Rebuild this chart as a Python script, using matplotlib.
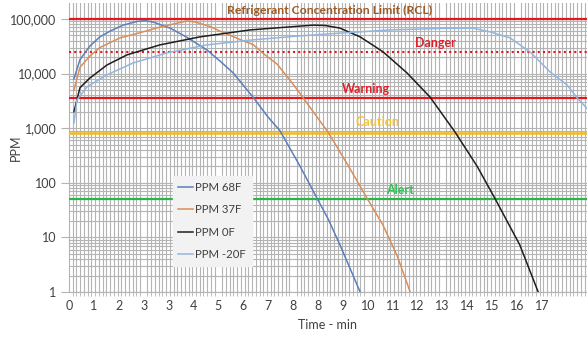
import numpy as np
import matplotlib.pyplot as plt
from matplotlib.ticker import FixedLocator, MultipleLocator, LogLocator, NullFormatter

plt.rcParams['font.family'] = ['Lato', 'DejaVu Sans']

# time axis is a category axis: tick positions 0..19 carry these labels
tick_labels = ['0', '1', '2', '3', '3', '4', '5', '6', '7', '8',
               '8', '9', '10', '11', '12', '13', '14', '15', '16', '17']

t_68 = [0.2, 0.44, 0.84, 1.24, 1.65, 2.17, 2.73, 3.05, 3.37, 4.06, 4.74, 5.54,
        6.06, 6.59, 7.39, 7.99, 8.47, 9.28, 9.96, 10.4, 10.88, 11.69]
ppm_68 = [8000, 18000, 32000, 47000, 60000, 77000, 90000, 93000, 88000, 68000, 46000, 27000,
          17000, 10300, 3700, 1600, 900, 200, 52, 22, 7.3, 1]

t_37 = [0.2, 0.44, 0.84, 1.24, 2.05, 2.85, 3.65, 4.46, 4.74, 5.06, 5.66, 6.06, 6.87,
        7.39, 7.87, 8.35, 8.88, 9.28, 9.84, 10.4, 11.2, 11.97, 12.6, 13.17, 13.7]
ppm_37 = [5000, 13000, 21000, 30000, 45000, 56000, 71000, 86000, 92000, 88000, 73000, 60000, 42000,
          34000, 22000, 15000, 7500, 4300, 1900, 850, 210, 52, 17, 4.7, 1]

t_0 = [0.2, 0.44, 0.84, 1.53, 2.33, 3.65, 5.26, 7.27, 9.28, 9.8, 10.28, 10.88, 11.69,
       12.61, 13.57, 14.5, 15.5, 16.39, 17.1, 18.1, 18.84]
ppm_0 = [2000, 5500, 8300, 14400, 22000, 33500, 47000, 63000, 74000, 77000, 76000, 68000, 47000,
         25000, 10300, 3700, 850, 200, 52, 7.3, 1]

t_m20 = [0.2, 0.32, 0.72, 1.53, 2.57, 3.94, 5.54, 7.27, 9.28, 10.88, 12.89, 14.9, 16.22,
         16.91, 17.71, 18.51, 19.32, 20.0, 20.4, 20.8]
ppm_m20 = [1250, 3300, 5700, 9500, 15600, 24000, 33500, 41000, 49000, 55000, 63000, 67000, 68000,
           58000, 45000, 25000, 10700, 6200, 3600, 2300]

limit_rcl = 100000
limit_danger = 25000
limit_warning = 3600
limit_caution = 820
limit_alert = 50

fig = plt.figure(figsize=(5.87, 3.37), dpi=100)
ax = fig.add_axes([69 / 587, 1 - 292 / 337, 518 / 587, 289 / 337])

ax.set_yscale('log')
ax.set_xlim(0, 20.8)

grid_c = '#b4b4b4'
ax.xaxis.set_major_locator(FixedLocator(range(len(tick_labels))))
ax.set_xticklabels(tick_labels)
ax.xaxis.set_minor_locator(MultipleLocator(0.15))
ax.yaxis.set_minor_locator(LogLocator(base=10, subs=np.arange(2, 10), numticks=10))
ax.yaxis.set_minor_formatter(NullFormatter())
ax.set_yticks([1, 10, 100, 1000, 10000, 100000])
ax.set_yticklabels(['1', '10', '100', '1,000', '10,000', '100,000'])
ax.set_ylim(1, 196000)

ax.grid(which='minor', axis='x', color=grid_c, lw=0.8)
ax.grid(which='both', axis='y', color=grid_c, lw=0.8)
ax.set_axisbelow(True)

ax.tick_params(axis='x', which='major', length=0, labelsize=9, colors='#404040', pad=6)
ax.tick_params(axis='x', which='minor', length=3, color=grid_c)
ax.tick_params(axis='y', which='major', length=6, color=grid_c, labelsize=9, labelcolor='#404040', pad=3)
ax.tick_params(axis='y', which='minor', length=0)
for s in ['top', 'right']:
    ax.spines[s].set_visible(False)
for s in ['left', 'bottom']:
    ax.spines[s].set_color(grid_c)

ax.axhline(limit_rcl, color='#e3161e', lw=1.6, zorder=3)
ax.axhline(limit_danger, color='#e3161e', lw=1.5, ls=(0, (1, 1.5)), zorder=3)
ax.axhline(limit_warning, color='#e3161e', lw=1.6, zorder=3)
ax.axhline(limit_caution, color='#f7b917', lw=1.8, zorder=3)
ax.axhline(limit_alert, color='#2ab548', lw=1.6, zorder=3)

ax.plot(t_68, ppm_68, color='#5a7fba', lw=1.1, label='PPM 68F', zorder=4)
ax.plot(t_37, ppm_37, color='#d98e5a', lw=1.1, label='PPM 37F', zorder=4)
ax.plot(t_0, ppm_0, color='#1e1e1e', lw=1.1, label='PPM 0F', zorder=4)
ax.plot(t_m20, ppm_m20, color='#92b6de', lw=1.1, label='PPM -20F', zorder=4)

ax.text(10.48, 146000, 'Refrigerant Concentration Limit (RCL)', color='#9c5a24',
        fontsize=8.8, fontweight='bold', ha='center', va='center', zorder=5)
ax.text(14.7, 36300, 'Danger', color='#e0202a', fontsize=9, fontweight='bold',
        ha='center', va='center', zorder=5)
ax.text(11.93, 5220, 'Warning', color='#e0202a', fontsize=9, fontweight='bold',
        ha='center', va='center', zorder=5)
ax.text(12.37, 1300, 'Caution', color='#f5c236', fontsize=9, fontweight='bold',
        ha='center', va='center', zorder=5)
ax.text(13.3, 73, 'Alert', color='#2fbf55', fontsize=9, fontweight='bold',
        ha='center', va='center', zorder=5)

leg = ax.legend(loc='upper left', bbox_to_anchor=(0.2, 0.40), borderaxespad=0,
                frameon=True, fancybox=False, facecolor='#f2f2f2', edgecolor='#f2f2f2',
                framealpha=1, fontsize=8.2, handlelength=1.3, handletextpad=0.2,
                labelspacing=1.0, borderpad=0.5)
leg.set_zorder(6)
for txt in leg.get_texts():
    txt.set_color('#404040')

ax.set_ylabel('PPM', fontsize=9, color='#404040')
ax.yaxis.set_label_coords(-(69 - 22) / 518, (292 - 148) / 289)
ax.set_xlabel('Time - min', fontsize=9, color='#404040', labelpad=5)

fig.savefig('out.png', dpi=100)
